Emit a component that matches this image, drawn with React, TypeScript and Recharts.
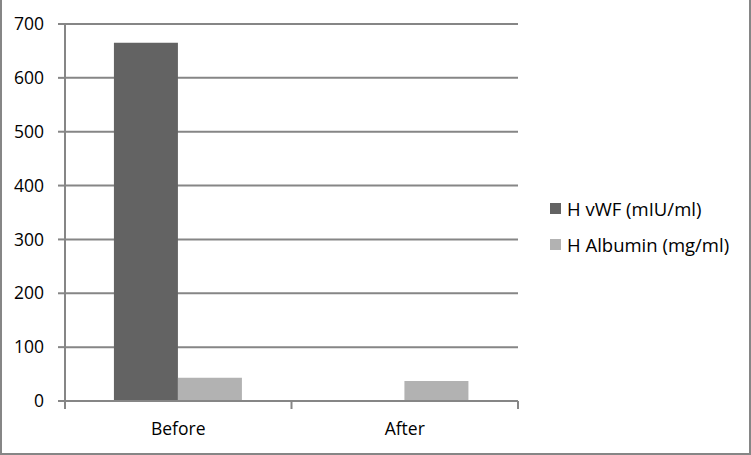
import { BarChart, Bar, XAxis, YAxis, CartesianGrid, Legend } from 'recharts';

const CATEGORIES = ['Before', 'After'];
const VWF = [665, 0];
const ALBUMIN = [43, 37];
const Y_TICKS = [0, 100, 200, 300, 400, 500, 600, 700];

const SERIES = [
  { key: 'vwf', name: 'H vWF (mIU/ml)', color: '#636363' },
  { key: 'albumin', name: 'H Albumin (mg/ml)', color: '#b2b2b2' },
];

const data = CATEGORIES.map((name, i) => ({ name, vwf: VWF[i], albumin: ALBUMIN[i] }));

const W = 751;
const H = 455;
const MARGIN = { top: 24, right: 233, bottom: 0, left: 0 };
const Y_WIDTH = 65;
const X_HEIGHT = 54;
const GRID = '#868686';
const FONT = '"Open Sans", sans-serif';

const plotWidth = W - MARGIN.left - MARGIN.right - Y_WIDTH;
const halfBand = plotWidth / CATEGORIES.length / 2;

function CategoryTick(props: any) {
  const { x, y, payload, index } = props;
  const last = index === CATEGORIES.length - 1;
  return (
    <g>
      <line x1={x - halfBand} x2={x - halfBand} y1={y - 8} y2={y} stroke={GRID} strokeWidth={2} />
      {last && <line x1={x + halfBand} x2={x + halfBand} y1={y - 8} y2={y} stroke={GRID} strokeWidth={2} />}
      <text x={x} y={y + 26} textAnchor="middle" fill="#000" fontSize={17.5} fontFamily={FONT}>
        {payload.value}
      </text>
    </g>
  );
}

function LegendBox(props: any) {
  const items = SERIES.map(s => (props.payload || []).find((p: any) => p.value === s.name)).filter(Boolean);
  return (
    <div style={{ fontFamily: FONT, fontSize: 18.5, color: '#000' }}>
      {items.map((p: any) => (
        <div key={p.value} style={{ display: 'flex', alignItems: 'center', height: 36 }}>
          <span style={{ width: 11, height: 11, background: p.color, marginRight: 6, display: 'inline-block' }} />
          <span>{p.value}</span>
        </div>
      ))}
    </div>
  );
}

export default function App() {
  return (
    <div style={{ position: 'absolute', left: 0, top: 0, width: W, height: H, background: '#fff' }}>
      <BarChart width={W} height={H} data={data} margin={MARGIN} barCategoryGap="21.6%" barGap={0}>
        <CartesianGrid vertical={false} stroke={GRID} strokeWidth={2} />
        <XAxis
          dataKey="name"
          height={X_HEIGHT}
          axisLine={{ stroke: GRID, strokeWidth: 2 }}
          tickLine={false}
          tick={<CategoryTick />}
          interval={0}
        />
        <YAxis
          width={Y_WIDTH}
          domain={[0, 700]}
          ticks={Y_TICKS}
          interval={0}
          axisLine={{ stroke: GRID, strokeWidth: 2 }}
          tickLine={{ stroke: GRID, strokeWidth: 2 }}
          tickSize={7}
          tickMargin={14}
          tick={{ fill: '#000', fontSize: 17.5, fontFamily: FONT }}
        />
        <Legend
          layout="vertical"
          align="center"
          verticalAlign="middle"
          content={<LegendBox />}
          wrapperStyle={{ position: 'absolute', left: 550, top: 190, width: 200 }}
        />
        {SERIES.map(s => (
          <Bar key={s.key} dataKey={s.key} name={s.name} fill={s.color} isAnimationActive={false} />
        ))}
      </BarChart>
      <div
        style={{
          position: 'absolute', left: 0, top: -2, width: W, height: H + 2,
          boxSizing: 'border-box', border: `2px solid ${GRID}`, pointerEvents: 'none',
        }}
      />
    </div>
  );
}
